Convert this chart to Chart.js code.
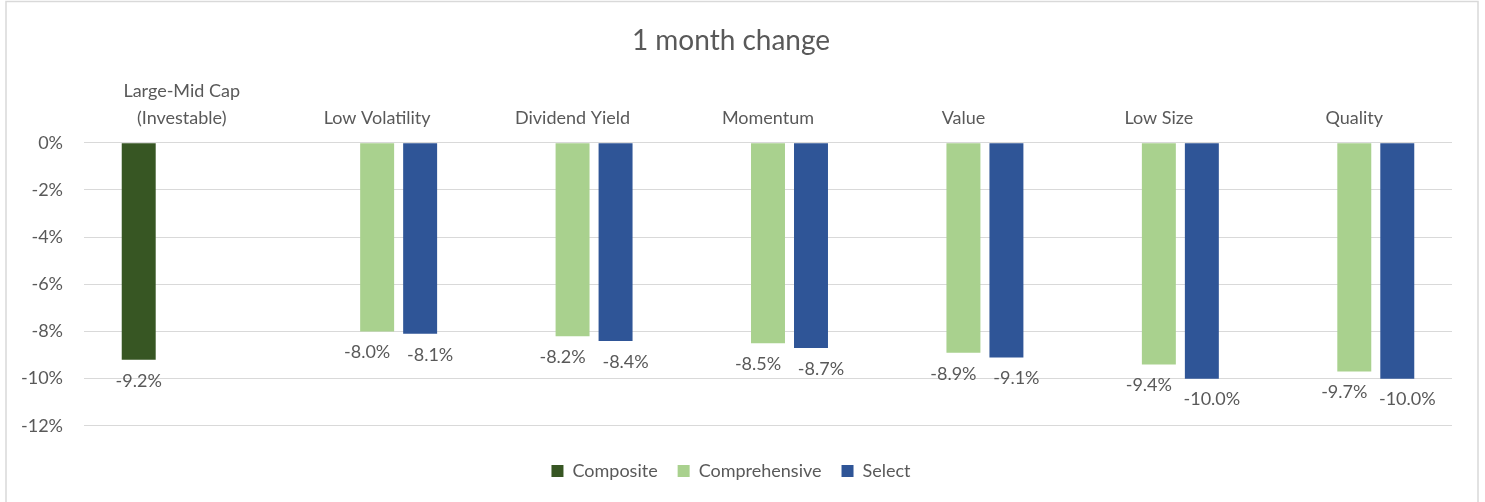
<!DOCTYPE html>
<html>
<head>
<meta charset="utf-8">
<script src="https://cdn.jsdelivr.net/npm/chart.js@4"></script>
<style>
  html, body { margin: 0; padding: 0; background: #fff; }
  #wrap { position: absolute; left: 0; top: 0; width: 1485px; height: 502px; }
</style>
</head>
<body>
<div id="wrap"><canvas id="changeChart" width="1485" height="502"></canvas></div>
<script>
const categories = [
    ["Large-Mid Cap", "(Investable)"],
    "Low Volatility",
    "Dividend Yield",
    "Momentum",
    "Value",
    "Low Size",
    "Quality"
];
const compositeValues = [-9.2, null, null, null, null, null, null];
const comprehensiveValues = [null, -8.0, -8.2, -8.5, -8.9, -9.4, -9.7];
const selectValues = [null, -8.1, -8.4, -8.7, -9.1, -10.0, -10.0];
const yTicks = [0, -2, -4, -6, -8, -10, -12];

const textColor = '#595959';
const fontFamily = 'Lato, "Noto Sans", sans-serif';

// value labels under each bar end, nudged sideways like the spreadsheet does
const labelShift = [0, -10, 10];
const valueLabels = {
    id: 'valueLabels',
    afterDatasetsDraw(chart) {
        const ctx = chart.ctx;
        ctx.save();
        ctx.font = '18px ' + fontFamily;
        ctx.fillStyle = textColor;
        ctx.textAlign = 'center';
        ctx.textBaseline = 'middle';
        chart.data.datasets.forEach((ds, i) => {
            const meta = chart.getDatasetMeta(i);
            meta.data.forEach((bar, j) => {
                const v = ds.data[j];
                if (v === null) return;
                ctx.fillText(v.toFixed(1) + '%', bar.x + labelShift[i], bar.y + 21);
            });
        });
        ctx.restore();
    }
};

const frame = {
    id: 'frame',
    beforeDraw(chart) {
        const ctx = chart.ctx;
        ctx.save();
        ctx.fillStyle = '#fff';
        ctx.fillRect(0, 0, chart.width, chart.height);
        ctx.strokeStyle = '#d9d9d9';
        ctx.lineWidth = 1.5;
        ctx.strokeRect(6, 1.5, 1472, 600);
        ctx.restore();
    }
};

new Chart(document.getElementById('changeChart'), {
    type: 'bar',
    data: {
        labels: categories,
        datasets: [
            { label: 'Composite', data: compositeValues, backgroundColor: '#375623' },
            { label: 'Comprehensive', data: comprehensiveValues, backgroundColor: '#A9D18E' },
            { label: 'Select', data: selectValues, backgroundColor: '#2F5597' }
        ]
    },
    options: {
        responsive: false,
        animation: false,
        categoryPercentage: 0.66,
        barPercentage: 0.79,
        layout: { padding: { left: 10, right: 33, top: 10, bottom: 12 } },
        scales: {
            x: {
                position: 'top',
                grid: { display: false },
                border: { display: false },
                ticks: {
                    color: textColor,
                    font: { family: fontFamily, size: 18, lineHeight: 1.45 },
                    padding: 4,
                    maxRotation: 0,
                    autoSkip: false
                }
            },
            y: {
                min: -12,
                max: 0,
                afterBuildTicks(scale) {
                    scale.ticks = yTicks.map(v => ({ value: v }));
                },
                afterFit(scale) { scale.width = 74; },
                grid: { color: '#d9d9d9', lineWidth: 1, drawTicks: false },
                border: { display: false },
                ticks: {
                    color: textColor,
                    font: { family: fontFamily, size: 18 },
                    padding: 21,
                    callback: v => v + '%'
                }
            }
        },
        plugins: {
            title: {
                display: true,
                text: '1 month change',
                color: textColor,
                font: { family: fontFamily, size: 28, weight: 'normal' },
                padding: { top: 14, bottom: 17 }
            },
            legend: {
                position: 'bottom',
                title: {
                    display: true,
                    text: ' ',
                    font: { size: 1 },
                    padding: { top: 0, bottom: 15 }
                },
                labels: {
                    color: textColor,
                    font: { family: fontFamily, size: 18 },
                    boxWidth: 12,
                    boxHeight: 12,
                    padding: 20
                }
            },
            tooltip: { enabled: false }
        }
    },
    plugins: [frame, valueLabels]
});
</script>
</body>
</html>
